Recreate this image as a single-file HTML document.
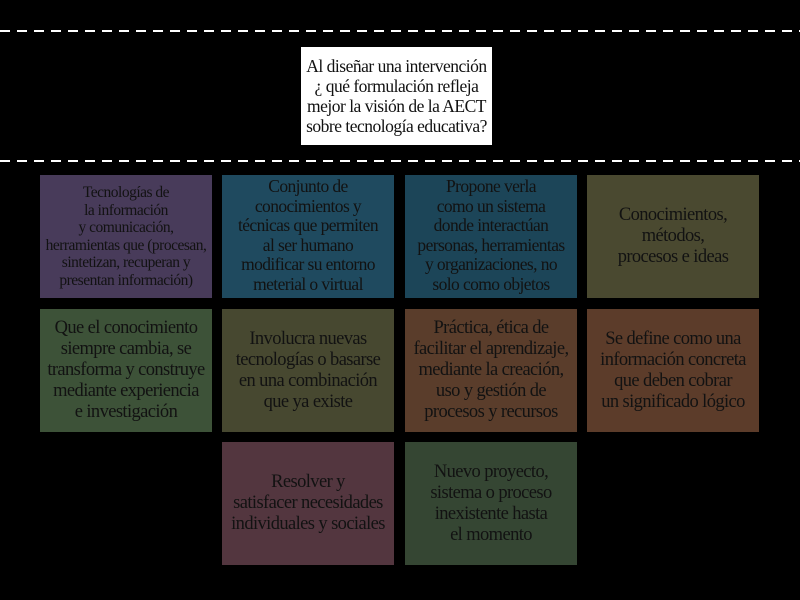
<!DOCTYPE html>
<html><head><meta charset="utf-8"><style>
html,body{margin:0;padding:0;background:#000;width:800px;height:600px;overflow:hidden;position:relative;font-family:"Liberation Serif",serif;}
.dash{position:absolute;left:0;width:800px;height:2px;background:repeating-linear-gradient(90deg,#fff 0 10px,transparent 10px 17px);}
.q{position:absolute;left:301px;top:47px;width:191px;height:98px;background:#fff;color:#111;font-size:17.5px;line-height:20px;text-align:center;display:flex;align-items:center;justify-content:center;letter-spacing:-0.5px;white-space:nowrap;}
.b{position:absolute;width:172px;height:123px;display:flex;align-items:center;justify-content:center;text-align:center;color:#121212;font-size:18.5px;line-height:21px;letter-spacing:-0.6px;white-space:nowrap;}
</style></head><body>
<div class="dash" style="top:30px"></div>
<div class="dash" style="top:160px"></div>
<div class="q">Al diseñar una intervención<br>¿ qué formulación refleja<br>mejor la visión de la AECT<br>sobre tecnología educativa?</div>

<div class="b" style="left:40px;top:175px;background:#483b5a;font-size:15.5px;line-height:17.5px;letter-spacing:-0.5px;">Tecnologías de<br>la información<br>y comunicación,<br>herramientas que (procesan,<br>sintetizan, recuperan y<br>presentan información)</div>
<div class="b" style="left:222px;top:175px;background:#1f4a5f;font-size:17.5px;line-height:19.5px;align-items:flex-start;padding-top:2px;box-sizing:border-box;">Conjunto de<br>conocimientos y<br>técnicas que permiten<br>al ser humano<br>modificar su entorno<br>meterial o virtual</div>
<div class="b" style="left:405px;top:175px;background:#1c4558;font-size:17.5px;line-height:19.5px;align-items:flex-start;padding-top:2px;box-sizing:border-box;">Propone verla<br>como un sistema<br>donde interactúan<br>personas, herramientas<br>y organizaciones, no<br>solo como objetos</div>
<div class="b" style="left:587px;top:175px;background:#4a4930;">Conocimientos,<br>métodos,<br>procesos e ideas</div>

<div class="b" style="left:40px;top:309px;background:#3d5238;">Que el conocimiento<br>siempre cambia, se<br>transforma y construye<br>mediante experiencia<br>e investigación</div>
<div class="b" style="left:222px;top:309px;background:#474830;">Involucra nuevas<br>tecnologías o basarse<br>en una combinación<br>que ya existe</div>
<div class="b" style="left:405px;top:309px;background:#5a3d2b;">Práctica, ética de<br>facilitar el aprendizaje,<br>mediante la creación,<br>uso y gestión de<br>procesos y recursos</div>
<div class="b" style="left:587px;top:309px;background:#5c3c2a;">Se define como una<br>información concreta<br>que deben cobrar<br>un significado lógico</div>

<div class="b" style="left:222px;top:442px;background:#53363f;">Resolver y<br>satisfacer necesidades<br>individuales y sociales</div>
<div class="b" style="left:405px;top:442px;background:#354633;">Nuevo proyecto,<br>sistema o proceso<br>inexistente hasta<br>el momento</div>
</body></html>
